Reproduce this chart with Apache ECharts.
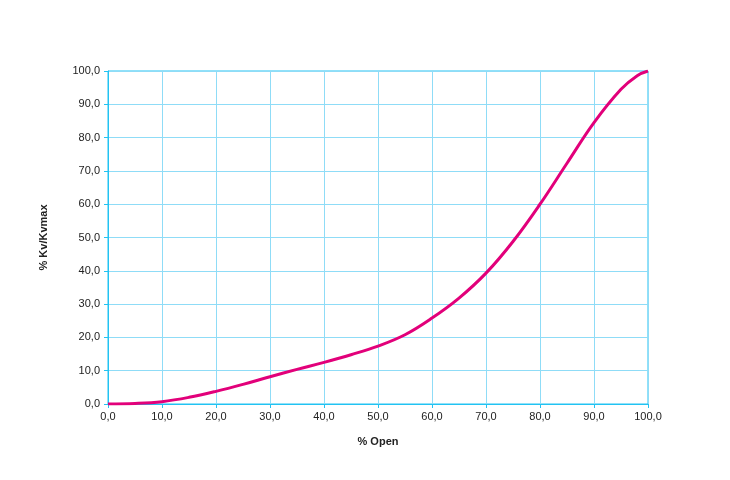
<!DOCTYPE html>
<html><head><meta charset="utf-8">
<script src="https://cdn.jsdelivr.net/npm/echarts@6/dist/echarts.min.js"></script>
<style>html,body{margin:0;padding:0;background:#fff}#c{width:730px;height:480px}</style>
</head><body><div id="c"></div>
<script>
const openPct = [0,5,10,15,20,25,30,35,40,45,50,55,60,65,70,75,80,85,90,95,98,100];
const kvPct   = [0,0.15,0.7,2.0,3.8,5.9,8.2,10.4,12.5,14.8,17.4,20.8,25.8,31.8,39.3,48.8,60.0,72.3,84.5,94.5,98.6,100];
const xTicks = {min:0,max:100,interval:10};
const yTicks = {min:0,max:100,interval:10};
const xName = '% Open';
const yName = '% Kv/Kvmax';

const fmt = v => v.toFixed(1).replace('.', ',');
const font = 'Liberation Sans, Arial, Helvetica, sans-serif';
const chart = echarts.init(document.getElementById('c'), null, {renderer:'canvas'});
chart.setOption({
  animation:false,
  grid:{left:108,right:82,top:71,bottom:76,show:true,borderColor:'#22c3f2',borderWidth:1,backgroundColor:'transparent'},
  xAxis:{type:'value',min:xTicks.min,max:xTicks.max,interval:xTicks.interval,
    name:xName,nameLocation:'middle',nameGap:32,
    nameTextStyle:{fontFamily:font,fontSize:11,fontWeight:'bold',color:'#222'},
    axisLine:{lineStyle:{color:'#22c3f2',width:1}},
    axisTick:{show:true,length:4,lineStyle:{color:'#22c3f2'}},
    axisLabel:{formatter:fmt,fontFamily:font,fontSize:11,color:'#222',margin:7},
    splitLine:{lineStyle:{color:'#8fdcf7',width:1}}},
  yAxis:{type:'value',min:yTicks.min,max:yTicks.max,interval:yTicks.interval,
    name:yName,nameLocation:'middle',nameGap:59,nameRotate:90,
    nameTextStyle:{fontFamily:font,fontSize:11,fontWeight:'bold',color:'#222'},
    axisLine:{show:true,lineStyle:{color:'#22c3f2',width:1}},
    axisTick:{show:true,length:4,lineStyle:{color:'#22c3f2'}},
    axisLabel:{formatter:fmt,fontFamily:font,fontSize:11,color:'#222',margin:8},
    splitLine:{lineStyle:{color:'#8fdcf7',width:1}}},
  series:[{type:'line',data:openPct.map((x,i)=>[x,kvPct[i]]),smooth:0.4,showSymbol:false,
    lineStyle:{color:'#e2007a',width:3}}]
});
</script></body></html>
